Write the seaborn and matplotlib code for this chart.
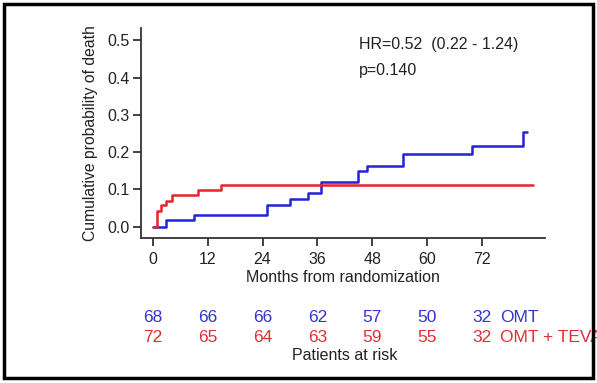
import numpy as np
import pandas as pd
import matplotlib.pyplot as plt
import seaborn as sns
from matplotlib.patches import Rectangle
from matplotlib.transforms import blended_transform_factory

# ---------- Data ----------
omt_months = [0, 2.8, 9.0, 24.9, 30.0, 34.0, 36.9, 44.9, 46.9, 54.8, 69.9, 80.9, 81.9]
omt_prob = [0, 0.018, 0.031, 0.059, 0.074, 0.090, 0.119, 0.148, 0.164, 0.196, 0.217, 0.255, 0.255]

teva_months = [0, 0.9, 1.9, 2.85, 4.1, 9.9, 15.0, 83.2]
teva_prob = [0, 0.041, 0.058, 0.070, 0.085, 0.097, 0.113, 0.113]

risk_months = [0, 12, 24, 36, 48, 60, 72]
omt_at_risk = [68, 66, 66, 62, 57, 50, 32]
teva_at_risk = [72, 65, 64, 63, 59, 55, 32]

group_names = ["OMT", "OMT + TEVA"]

BLUE = "#2323d6"
RED = "#e8232a"
BLUE_TXT = "#3535cc"
RED_TXT = "#dd3035"
DARK = "#222222"

# ---------- Build dataframe ----------
df = pd.concat([
    pd.DataFrame({"month": omt_months, "prob": omt_prob, "group": group_names[0]}),
    pd.DataFrame({"month": teva_months, "prob": teva_prob, "group": group_names[1]}),
], ignore_index=True)

sns.set_style("white")
plt.rcParams["font.family"] = ["Liberation Sans", "DejaVu Sans"]

fig = plt.figure(figsize=(5.97, 3.83), dpi=100)
ax = fig.add_axes([0.236, 0.379, 0.677, 0.548])

sns.lineplot(data=df, x="month", y="prob", hue="group",
             palette={group_names[0]: BLUE, group_names[1]: RED},
             estimator=None, drawstyle="steps-post", linewidth=1.8,
             legend=False, ax=ax)

ax.set_xlim(-2.6, 85.8)
ax.set_ylim(-0.03, 0.533)
ax.set_xticks(risk_months)
yt = [0.0, 0.1, 0.2, 0.3, 0.4, 0.5]
ax.set_yticks(yt)
ax.set_yticklabels([f"{v:.1f}" for v in yt])
sns.despine(ax=ax)
for side in ["left", "bottom"]:
    ax.spines[side].set_linewidth(1.3)
    ax.spines[side].set_color("#333333")
ax.tick_params(axis="both", direction="out", length=6, width=1.3, bottom=True, left=True,
               color="#333333", labelsize=11.5, labelcolor=DARK)
ax.tick_params(axis="x", pad=4.5)
ax.tick_params(axis="y", pad=2)
ax.set_xlabel("Months from randomization", fontsize=11.5, color=DARK)
ax.xaxis.set_label_coords(0.499, -0.152)
ax.set_ylabel("Cumulative probability of death", fontsize=11.3, color=DARK)
ax.yaxis.set_label_coords(-0.106, 0.5)

ax.text(0.54, 0.919, "HR=0.52  (0.22 - 1.24)", transform=ax.transAxes,
        fontsize=11.5, color=DARK, va="center")
ax.text(0.54, 0.799, "p=0.140", transform=ax.transAxes,
        fontsize=11.5, color=DARK, va="center")

# ---------- Numbers at risk ----------
trans = blended_transform_factory(ax.transData, fig.transFigure)
y_blue = 1 - 318 / 383
y_red = 1 - 337 / 383
for m, b, r in zip(risk_months, omt_at_risk, teva_at_risk):
    ax.text(m, y_blue, str(b), transform=trans, ha="center", va="center",
            fontsize=12.5, color=BLUE_TXT, clip_on=False)
    ax.text(m, y_red, str(r), transform=trans, ha="center", va="center",
            fontsize=12.5, color=RED_TXT, clip_on=False)

frame = Rectangle((4 / 597, 5 / 383), 589 / 597, 374 / 383, transform=fig.transFigure,
                  fill=False, edgecolor="black", linewidth=2.5)
fig.patches.append(frame)

ax.text(75.9, y_blue, group_names[0], transform=trans, ha="left", va="center",
        fontsize=12.5, color=BLUE_TXT, clip_on=False)
t = ax.text(75.9, y_red, group_names[1], transform=trans, ha="left", va="center",
            fontsize=12.5, color=RED_TXT)
t.set_clip_path(frame)
ax.text(42, 1 - 355 / 383, "Patients at risk", transform=trans, ha="center", va="center",
        fontsize=11.5, color=DARK, clip_on=False)

fig.savefig("out.png", dpi=100)
